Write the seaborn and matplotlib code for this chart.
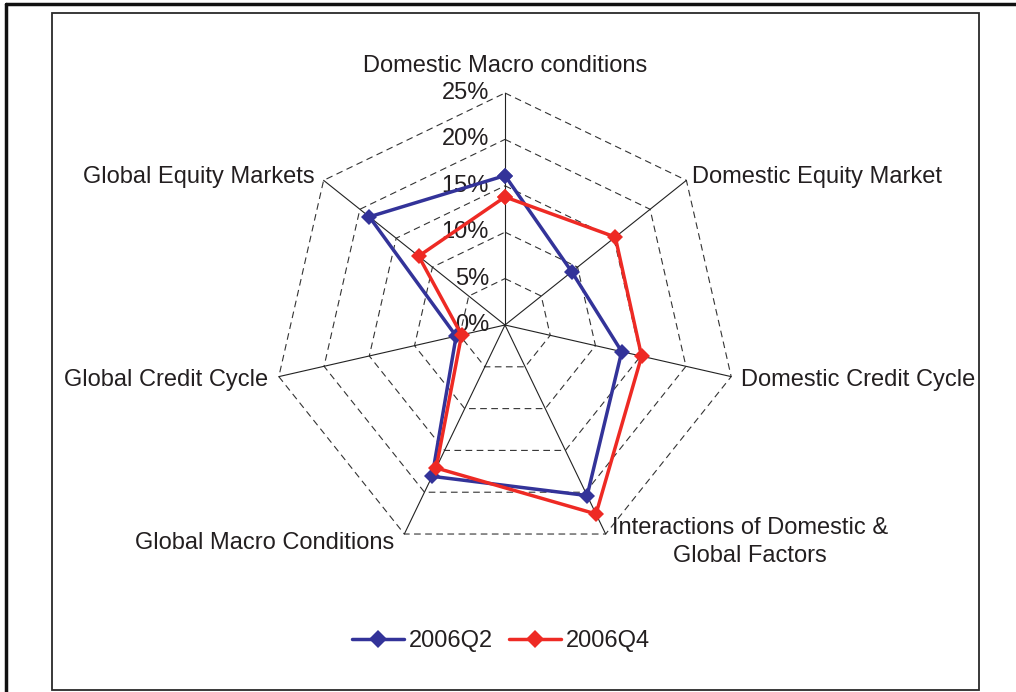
import numpy as np
import pandas as pd
import matplotlib
matplotlib.use('Agg')
import matplotlib.pyplot as plt
from matplotlib.patches import Rectangle
from matplotlib.lines import Line2D
import seaborn as sns

# factor weights (%)
categories = ['Domestic Macro conditions', 'Domestic Equity Market', 'Domestic Credit Cycle',
              'Interactions of Domestic &\nGlobal Factors', 'Global Macro Conditions',
              'Global Credit Cycle', 'Global Equity Markets']
q2_values = [16.1, 9.2, 12.9, 20.4, 18.1, 5.4, 18.7]
q4_values = [13.8, 15.2, 15.1, 22.6, 17.1, 4.8, 11.9]
periods = ['2006Q2', '2006Q4']
ring_levels = [0, 5, 10, 15, 20, 25]
ring_labels = ['0%', '5%', '10%', '15%', '20%', '25%']

colors = {'2006Q2': '#333399', '2006Q4': '#EE2A24'}

sns.set_style('white')
plt.rcParams['font.family'] = ['Liberation Sans', 'DejaVu Sans']
text_color = '#231F20'

n = len(categories)
theta = np.arange(n) * 2 * np.pi / n  # clockwise, starting at the top

# polygon points, closed back to the first category
rows = []
for period, vals in zip(periods, [q2_values, q4_values]):
    for i in list(range(n)) + [0]:
        rows.append({'period': period,
                     'x': vals[i] * np.sin(theta[i]),
                     'y': vals[i] * np.cos(theta[i])})
df = pd.DataFrame(rows)

W, H = 1016, 692
fig = plt.figure(figsize=(W / 100, H / 100), dpi=100)
ax = fig.add_axes([0, 0, 1, 1])
px = 232 / 25          # pixels per percentage point
cx, cy = 505, H - 325  # chart centre in pixels
ax.set_xlim(-cx / px, (W - cx) / px)
ax.set_ylim(-cy / px, (H - cy) / px)
ax.axis('off')

# dashed heptagon rings and solid spokes
closed = np.append(theta, theta[0])
for lv in ring_levels[1:]:
    ax.plot(lv * np.sin(closed), lv * np.cos(closed), color='#333333', lw=0.8,
            linestyle=(0, (6, 4)), zorder=2)
for t in theta:
    ax.plot([0, 25 * np.sin(t)], [0, 25 * np.cos(t)], color='#222222', lw=0.8, zorder=2)

sns.lineplot(data=df, x='x', y='y', hue='period', palette=colors, sort=False,
             estimator=None, marker='D', markersize=8.5, markeredgewidth=0,
             lw=2.5, legend=False, ax=ax, zorder=3)

# ring labels along the top spoke
for lv, lab in zip(ring_levels, ring_labels):
    ax.text(-16 / px, lv, lab, ha='right', va='center', fontsize=17, color=text_color, zorder=1)

# category labels, nudged off the outer vertices (pixel offsets)
label_offsets = [(0, 27), (6, 3), (10, -3), (6, -8), (-10, -9), (-11, -3), (-9, 3)]
for cat, t, off in zip(categories, theta, label_offsets):
    s = np.sin(t)
    ha = 'center' if abs(s) < 0.1 else ('left' if s > 0 else 'right')
    ax.annotate(cat, (25 * s, 25 * np.cos(t)), xytext=off, textcoords='offset pixels',
                ha=ha, va='center', multialignment='center', fontsize=17,
                color=text_color, linespacing=1.4)

handles = [Line2D([0], [0], color=colors[p], lw=2.5, marker='D', markersize=9,
                  markeredgewidth=0) for p in periods]
fig.legend(handles, periods, loc='center', bbox_to_anchor=(501 / W, 1 - 641 / H), ncol=2,
           frameon=False, fontsize=17, handlelength=2.2, handletextpad=0.2,
           columnspacing=0.7, labelcolor=text_color)

# chart border and the page rules of the scanned document
fig.add_artist(Rectangle((52 / W, 1 - 690 / H), (979 - 52) / W, (690 - 13) / H,
                         transform=fig.transFigure, fill=False, edgecolor='#2a2a2a', lw=1.3))
fig.add_artist(Line2D([6 / W, 1], [1 - 4 / H, 1 - 4 / H], color='#111111', lw=2.5))
fig.add_artist(Line2D([6 / W, 6 / W], [0, 1 - 4 / H], color='#111111', lw=2.5))

fig.savefig('out.png', dpi=100)
